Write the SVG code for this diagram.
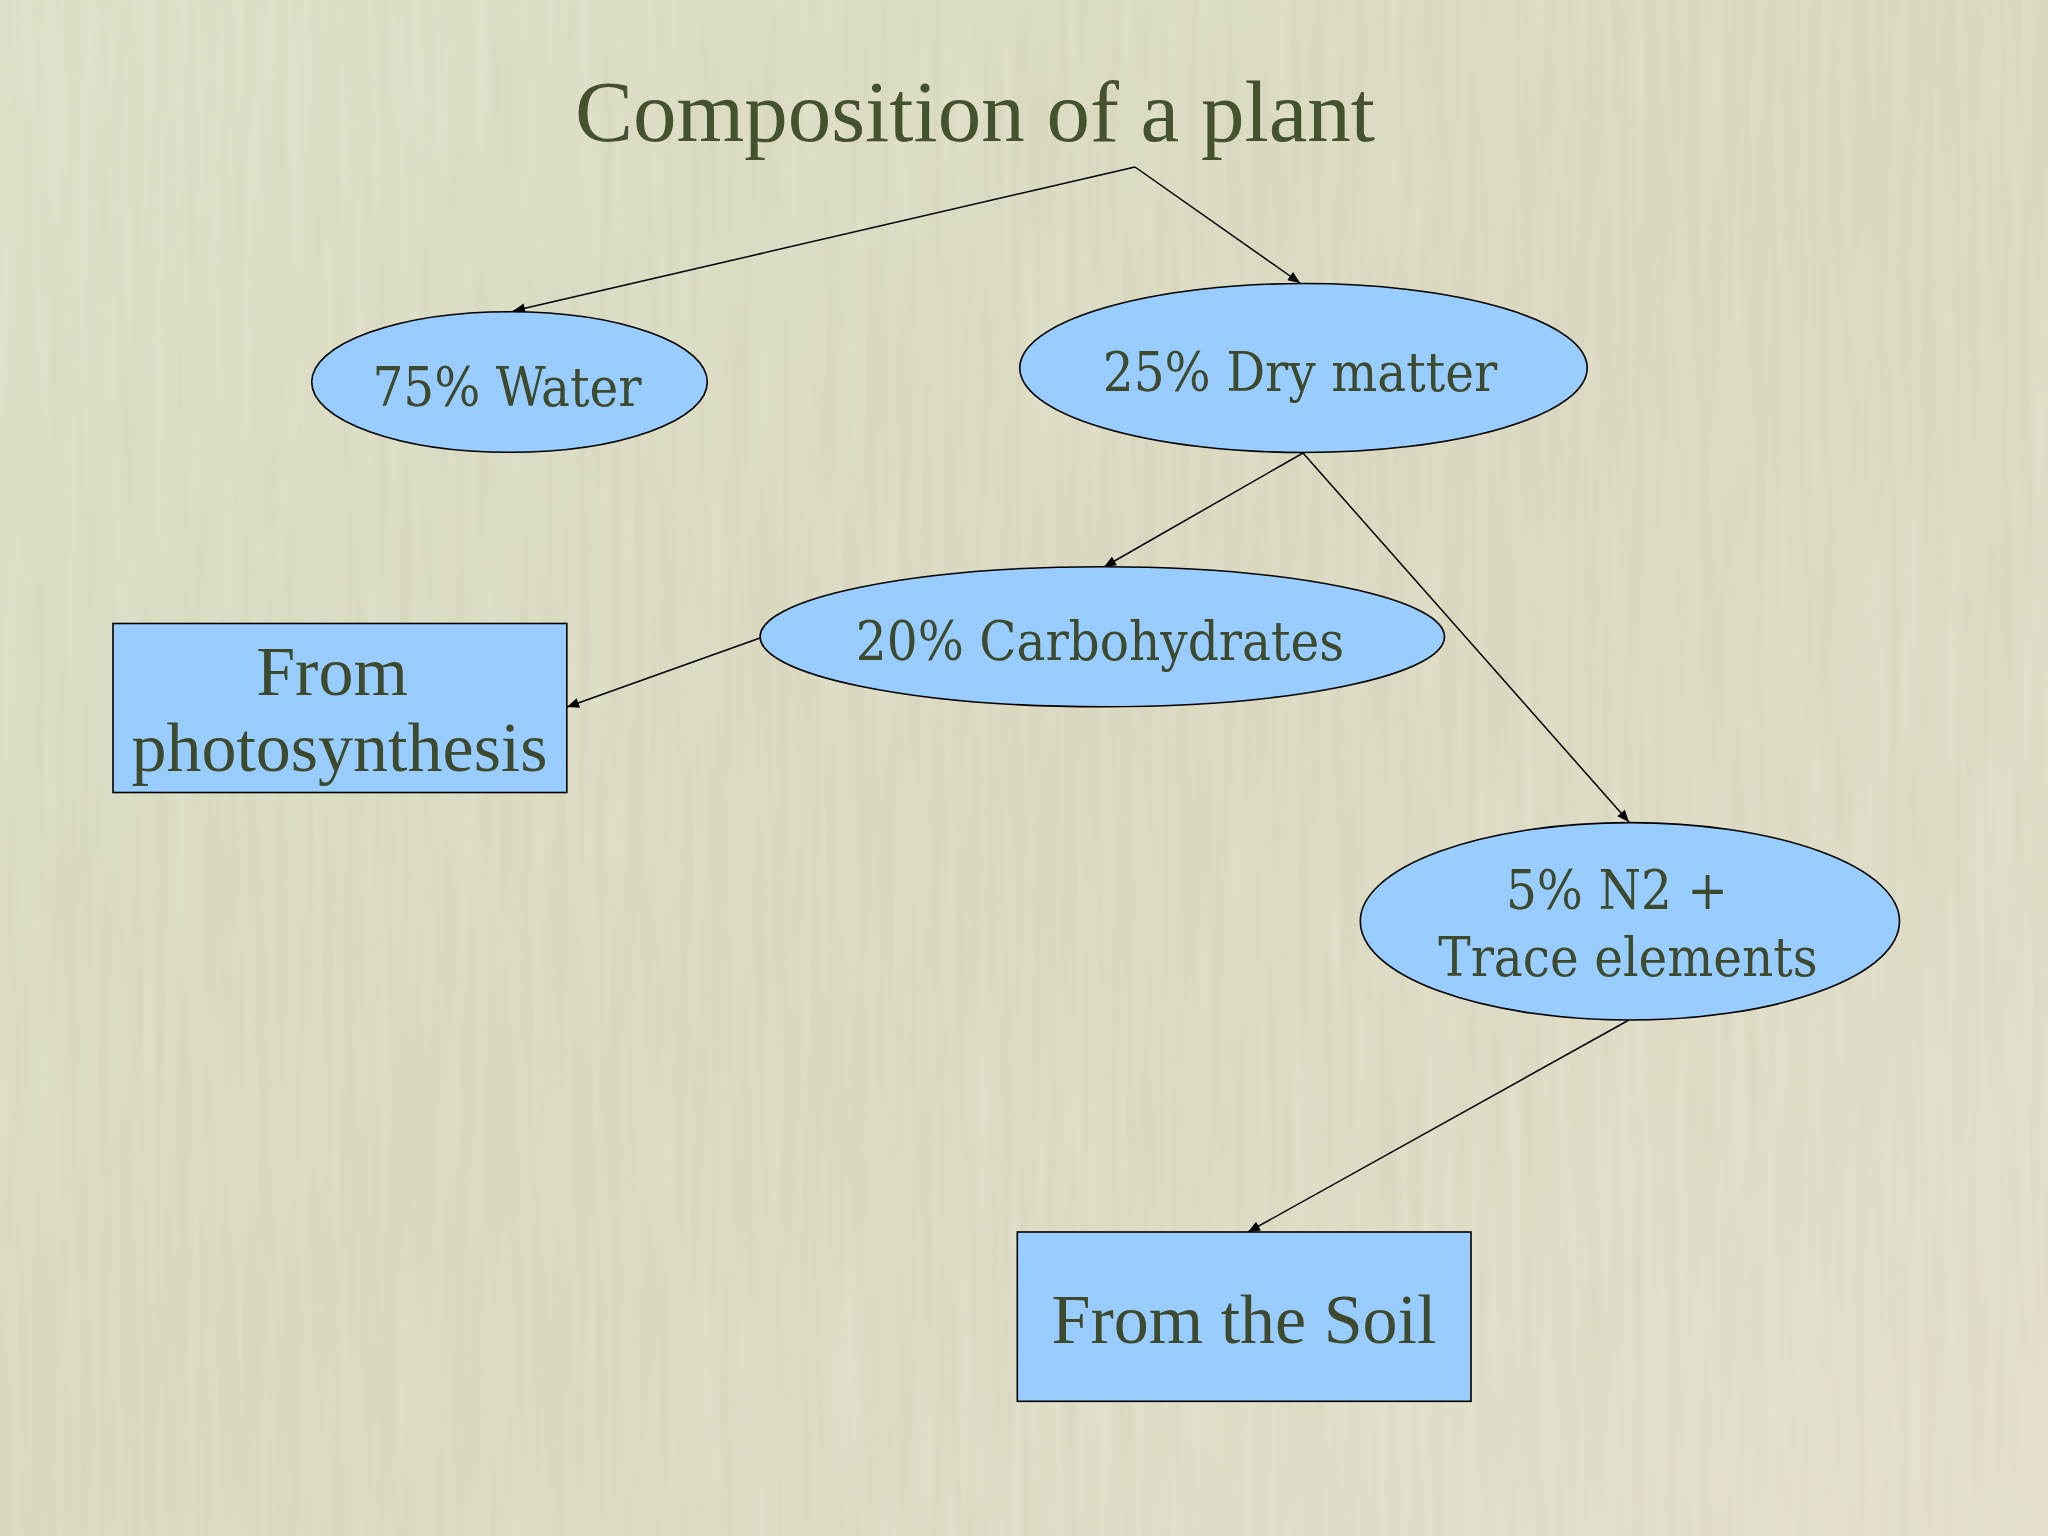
<svg xmlns="http://www.w3.org/2000/svg" width="2048" height="1536" viewBox="0 0 2048 1536">
<style>
.node{fill:#99ccff;stroke:#000;stroke-width:1.6}
.lbl{font-family:"DejaVu Serif Condensed","DejaVu Serif",serif;font-stretch:condensed;font-size:54px;fill:#3e4a2e;text-anchor:middle}
.box{font-family:"Liberation Serif","DejaVu Serif",serif;font-size:70px;fill:#3e4a2e;text-anchor:middle}
.title{font-family:"Liberation Serif","DejaVu Serif",serif;font-size:87px;fill:#445230;text-anchor:middle}
.edge{stroke:#000;stroke-width:1.5;fill:none;marker-end:url(#ah)}
</style>
<defs>
<linearGradient id="bg" x1="0" y1="0" x2="1" y2="1">
<stop offset="0" stop-color="#dadcc3"/>
<stop offset="0.5" stop-color="#d7d5bb"/>
<stop offset="1" stop-color="#e0dcc8"/>
</linearGradient>
<filter id="tex" x="0" y="0" width="100%" height="100%">
<feTurbulence type="fractalNoise" baseFrequency="0.09 0.004" numOctaves="2" seed="3" result="n"/>
<feColorMatrix in="n" type="matrix" values="0 0 0 0 1  0 0 0 0 1  0 0 0 0 0.9  0 0 0 0.35 -0.08"/>
</filter>
<marker id="ah" viewBox="0 0 12 10" refX="12" refY="5" markerWidth="13" markerHeight="10" markerUnits="userSpaceOnUse" orient="auto">
<path d="M0,0 L12,5 L0,10 z" fill="#000"/>
</marker>
</defs>
<rect width="2048" height="1536" fill="url(#bg)"/>
<rect width="2048" height="1536" filter="url(#tex)"/>
<g id="title"><text class="title" x="975" y="141">Composition of a plant</text></g>
<g id="connectors">
<line class="edge" x1="1135" y1="167" x2="513" y2="311"/>
<line class="edge" x1="1135" y1="167" x2="1300" y2="283"/>
<line class="edge" x1="1303" y1="453" x2="1104" y2="567"/>
<line class="edge" x1="1303" y1="453" x2="1629" y2="822"/>
<line class="edge" x1="760" y1="638" x2="567" y2="707"/>
<line class="edge" x1="1629" y1="1020" x2="1248" y2="1232"/>
</g>
<g id="water"><ellipse class="node" cx="509.5" cy="382" rx="197.8" ry="70.3"/><text class="lbl" x="507" y="406">75% Water</text></g>
<g id="dry"><ellipse class="node" cx="1303.5" cy="368" rx="283.7" ry="84.5"/><text class="lbl" x="1300" y="391">25% Dry matter</text></g>
<g id="carb"><ellipse class="node" cx="1102.3" cy="636.7" rx="342.2" ry="70"/><text class="lbl" x="1100" y="660">20% Carbohydrates</text></g>
<g id="n2"><ellipse class="node" cx="1629.9" cy="921.3" rx="269.6" ry="98.7"/><text class="lbl" x="1617" y="909">5% N2 +</text><text class="lbl" x="1628" y="976">Trace elements</text></g>
<g id="photo"><rect class="node" x="113" y="623.5" width="453.8" height="169"/><text class="box" x="332" y="695">From</text><text class="box" x="339.5" y="771">photosynthesis</text></g>
<g id="soil"><rect class="node" x="1017.3" y="1232" width="453.7" height="169.3"/><text class="box" x="1244" y="1343">From the Soil</text></g>
</svg>
